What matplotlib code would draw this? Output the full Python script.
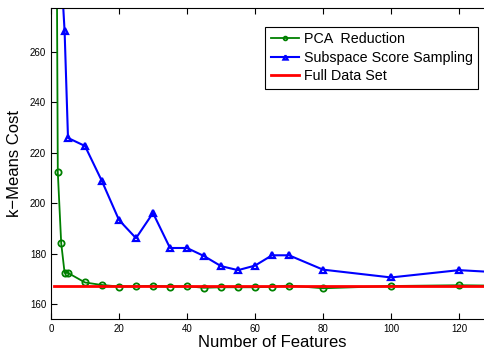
import matplotlib
matplotlib.use('Agg')
import matplotlib.pyplot as plt

plt.rcParams['font.family'] = ['Liberation Sans', 'DejaVu Sans']

pca_x = [1, 2, 3, 4, 5, 10, 15, 20, 25, 30, 35, 40, 45, 50, 55, 60, 65, 70, 80, 100, 120, 140]
pca_y = [500, 212.3, 184.1, 172.3, 172.3, 168.5, 167.5, 166.9, 167.0, 167.2, 166.9, 167.0,
         166.4, 166.6, 166.6, 166.6, 166.8, 167.3, 166.2, 167.1, 167.4, 167.1]

sss_x = [3, 4, 5, 10, 15, 20, 25, 30, 35, 40, 45, 50, 55, 60, 65, 70, 80, 100, 120, 140]
sss_y = [292, 268.3, 225.9, 222.7, 208.7, 193.3, 186.1, 196.1, 182.2, 182.2, 179.0, 175.0,
         173.4, 175.2, 179.3, 179.3, 173.6, 170.5, 173.4, 171.9]

full_x = [1, 140]
full_y = [167.0, 167.0]

fig = plt.figure(figsize=(4.85, 3.5), dpi=100)
ax = fig.add_axes([51 / 485, 31 / 350, 130 * 3.4 / 485, 311 / 350])

ax.plot(pca_x, pca_y, '-o', color=(0, 0.5, 0), mfc='none', mec=(0, 0.5, 0),
        markersize=4.5, markeredgewidth=1.3, linewidth=1.3, label='PCA  Reduction')
ax.plot(sss_x, sss_y, '-^', color='blue', mfc='none', mec='blue',
        markersize=5, markeredgewidth=1.6, linewidth=1.5, label='Subspace Score Sampling')
ax.plot(full_x, full_y, '-', color='red', linewidth=2, label='Full Data Set')

ax.set_xlim(0, 130)
ax.set_ylim(154, 277.5)
ax.set_xticks([0, 20, 40, 60, 80, 100, 120])
ax.set_yticks([160, 180, 200, 220, 240, 260])
ax.tick_params(direction='in', top=True, right=True, labelsize=7, length=4)
ax.set_xlabel('Number of Features', fontsize=12, labelpad=1)
ax.set_ylabel('k\u2212Means Cost', fontsize=12, labelpad=6)

leg = ax.legend(loc='upper left', bbox_to_anchor=((265 - 51) / (130 * 3.4), (350 - 31 - 26.7) / 311),
                fontsize=10.3, fancybox=False, framealpha=1, edgecolor='black',
                handlelength=2.0, handletextpad=0.3, borderpad=0.4, labelspacing=0.3,
                borderaxespad=0, markerscale=0.6)
leg.get_frame().set_linewidth(0.8)

fig.savefig('out.png', dpi=100)
